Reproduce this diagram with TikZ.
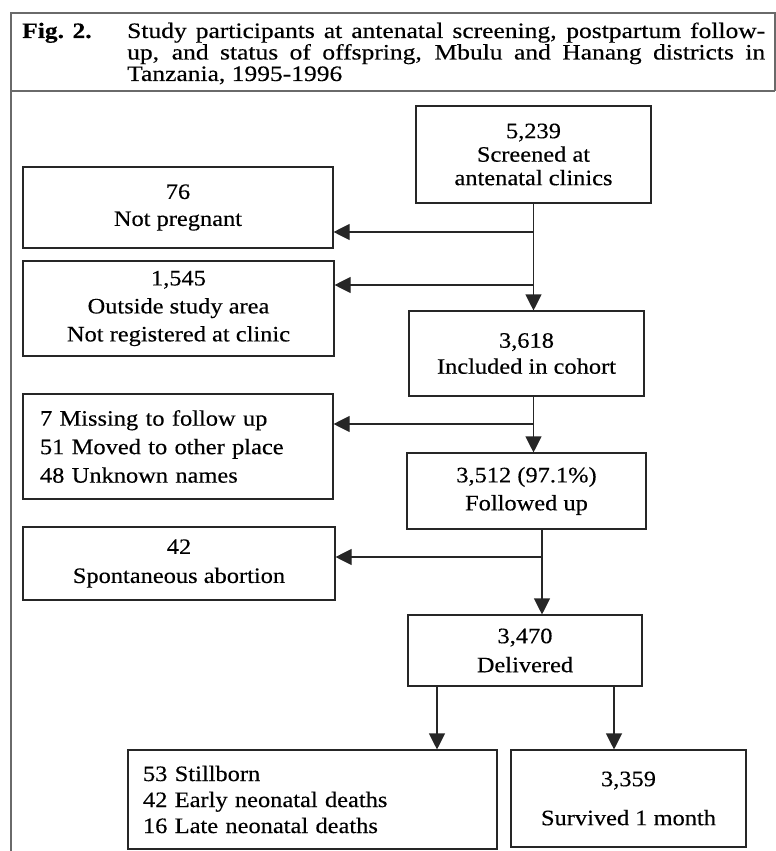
\documentclass[tikz,border=0pt]{standalone}
\usepackage{fontspec}
\setmainfont{Liberation Serif}[FakeStretch=1.11,FakeBold=0.35]
\newfontfamily\capfont{Liberation Serif}[FakeStretch=1.16,FakeBold=0.35]
\usetikzlibrary{arrows.meta}
\definecolor{linec}{HTML}{262626}
\definecolor{framec}{HTML}{6A6A6A}
\begin{document}
\begin{tikzpicture}[x=1pt,y=-1pt,
  box/.style={draw=linec, line width=1.1pt, rectangle, inner sep=0pt, align=center,
    font=\fontsize{22}{27}\selectfont},
  lbox/.style={box, align=left},
  arr/.style={draw=linec, line width=1.1pt, -{Triangle[width=16pt,length=16pt]}},
  frameline/.style={draw=framec, line width=1.2pt},
  capline/.style={anchor=base west, inner sep=0pt, font=\capfont\fontsize{22}{21.5}\selectfont}]
\useasboundingbox (0,0) rectangle (776,851);
% frame
\coordinate (ftl) at (11,13);
\coordinate (ftr) at (775,13);
\coordinate (fsl) at (11,91);
\coordinate (fsr) at (775,91);
\coordinate (fbl) at (11,851);
\draw[frameline] (fbl) -- (ftl) -- (ftr) -- (fsr);
\draw[frameline] (fsl) -- (fsr);
% caption
\node[capline] (fig) at (22,38) {\bfseries Fig. 2.};
\node[capline] (cap1) at (127,38) {\makebox[638pt][s]{Study participants at antenatal screening, postpartum follow-}};
\node[capline] (cap2) at (127,59.5) {\makebox[638pt][s]{up, and status of offspring, Mbulu and Hanang districts in}};
\node[capline] (cap3) at (127,81) {Tanzania, 1995-1996};
% boxes
\node[box, minimum width=235pt, minimum height=97pt, font=\fontsize{22}{23.5}\selectfont]
  (screen) at (533.5,154.5) {5,239\\Screened at\\antenatal clinics};
\node[box, minimum width=310pt, minimum height=81pt] (notpreg) at (178,207.5) {76\\Not pregnant};
\node[box, minimum width=311pt, minimum height=95pt, font=\fontsize{22}{28}\selectfont]
  (outside) at (178.5,308.5) {1,545\\Outside study area\\Not registered at clinic};
\node[box, minimum width=235pt, minimum height=85pt, font=\fontsize{22}{26}\selectfont]
  (included) at (526.5,353.5) {3,618\\Included in cohort};
\node[lbox, minimum height=105pt, text width=276pt, inner xsep=17pt, font=\fontsize{22}{28.5}\selectfont]
  (missing) at (178,446.5) {7 Missing to follow up\\51 Moved to other place\\48 Unknown names};
\node[box, minimum width=239pt, minimum height=76pt, font=\fontsize{22}{28}\selectfont]
  (followed) at (526.5,491) {3,512 (97.1\%)\\Followed up};
\node[box, minimum width=312pt, minimum height=73pt, font=\fontsize{22}{29}\selectfont]
  (abortion) at (179,563.5) {42\\Spontaneous abortion};
\node[box, minimum width=234pt, minimum height=71pt, font=\fontsize{22}{29}\selectfont]
  (delivered) at (525,650.5) {3,470\\Delivered};
\node[lbox, minimum height=99pt, text width=339pt, inner xsep=15pt, font=\fontsize{22}{26}\selectfont]
  (stillborn) at (312.5,799.5) {53 Stillborn\\42 Early neonatal deaths\\16 Late neonatal deaths};
\node[box, minimum width=235pt, minimum height=97pt, font=\fontsize{22}{39}\selectfont]
  (survived) at (628.5,798.5) {3,359\\Survived 1 month};
% connectors
\coordinate (b1) at (533.5,232);
\coordinate (b2) at (533.5,285);
\coordinate (b3) at (533.5,424);
\coordinate (c3) at (542,557);
\coordinate (d1) at (437,0);
\coordinate (d2) at (614,0);
\draw[arr] (screen.south) -- (screen.south |- included.north);
\draw[arr] (b1) -- (b1 -| notpreg.east);
\draw[arr] (b2) -- (b2 -| outside.east);
\draw[arr] (included.south -| b3) -- (followed.north -| b3);
\draw[arr] (b3) -- (b3 -| missing.east);
\draw[arr] (followed.south -| c3) -- (delivered.north -| c3);
\draw[arr] (c3) -- (c3 -| abortion.east);
\draw[arr] (delivered.south -| d1) -- (stillborn.north -| d1);
\draw[arr] (delivered.south -| d2) -- (survived.north -| d2);
\end{tikzpicture}
\end{document}
